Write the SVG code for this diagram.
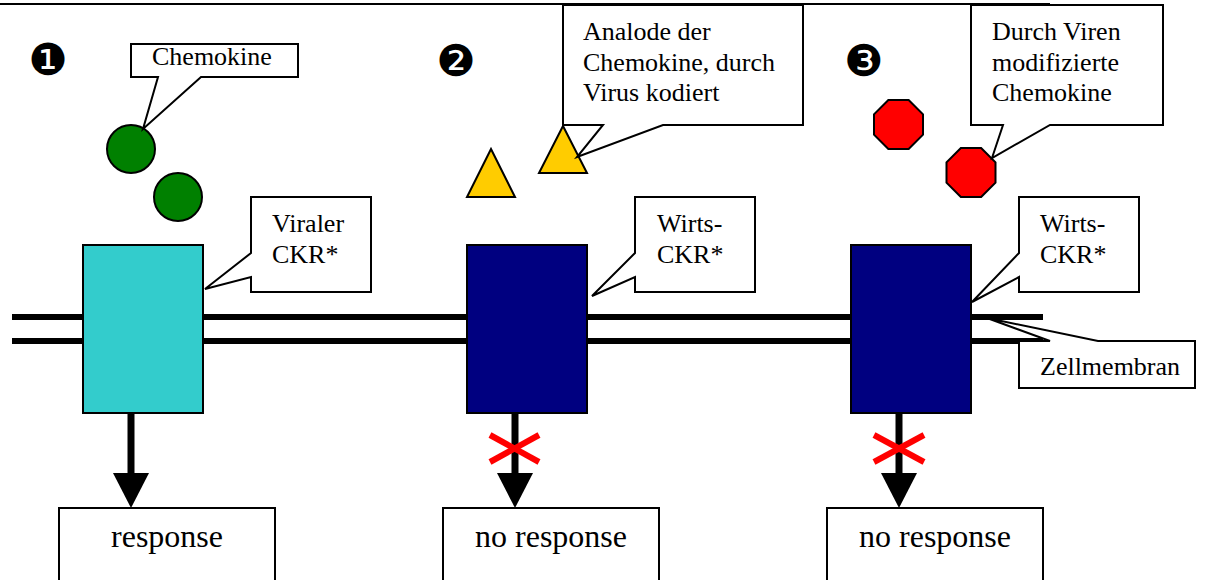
<svg xmlns="http://www.w3.org/2000/svg" width="1209" height="580" viewBox="0 0 1209 580">
<style>
.t{font-family:"Liberation Serif","Times New Roman",serif;font-size:26px;fill:#000}
.r{font-family:"Liberation Serif","Times New Roman",serif;font-size:32px;fill:#000;text-anchor:middle}
.num{font-family:"DejaVu Sans",sans-serif;font-size:44px;fill:#000;text-anchor:middle}
.co{fill:#fff;stroke:#000;stroke-width:2;stroke-linejoin:miter}
.mem{stroke:#000;stroke-width:6}
.sh{stroke:#000;stroke-width:2}
.arr{stroke:#000;stroke-width:7;marker-end:url(#ah)}
.x{stroke:#f00;stroke-width:6}
</style>
<defs>
<marker id="ah" viewBox="0 0 35 36" refX="7" refY="18" markerWidth="35" markerHeight="36" markerUnits="userSpaceOnUse" orient="auto">
<path d="M0,0 L35,18 L0,36 Z" fill="#000"/>
</marker>
</defs>
<rect width="1209" height="580" fill="#fff"/>
<line x1="0" y1="4" x2="1050" y2="4" stroke="#000" stroke-width="2"/>
<g id="membrane">
<line class="mem" x1="12" y1="317" x2="1043" y2="317"/>
<line class="mem" x1="12" y1="341" x2="1043" y2="341"/>
</g>
<g id="bullets">
<text class="num" x="48" y="75">❶</text>
<text class="num" x="456" y="76">❷</text>
<text class="num" x="864" y="76">❸</text>
</g>
<g id="chemokines">
<circle cx="131" cy="149" r="24" fill="#008000" class="sh"/>
<circle cx="178" cy="197" r="24" fill="#008000" class="sh"/>
</g>
<g id="analogs">
<polygon points="491,149 515,197 467,197" fill="#FFCC00" class="sh"/>
<polygon points="563,126 587,173 539,173" fill="#FFCC00" class="sh"/>
</g>
<g id="modified">
<polygon points="888.35,100 908.65,100 923,114.35 923,134.65 908.65,149 888.35,149 874,134.65 874,114.35" fill="#f00" class="sh"/>
<polygon points="960.85,148 981.15,148 995.5,162.35 995.5,182.65 981.15,197 960.85,197 946.5,182.65 946.5,162.35" fill="#f00" class="sh"/>
</g>
<g id="receptor1"><rect x="83" y="245" width="120" height="168" fill="#33CCCC" class="sh"/></g>
<g id="receptor2"><rect x="467" y="245" width="120" height="168" fill="#000080" class="sh"/></g>
<g id="receptor3"><rect x="851" y="245" width="120" height="168" fill="#000080" class="sh"/></g>
<g id="connectors">
<line class="arr" x1="131" y1="413" x2="131" y2="480"/>
<line class="arr" x1="515" y1="413" x2="515" y2="480"/>
<line class="arr" x1="899" y1="413" x2="899" y2="480"/>
<line class="x" x1="490" y1="435" x2="539" y2="462"/>
<line class="x" x1="490" y1="462" x2="539" y2="435"/>
<line class="x" x1="874" y1="435" x2="924" y2="462"/>
<line class="x" x1="874" y1="462" x2="924" y2="435"/>
</g>
<g id="callout-chemokine">
<path class="co" d="M131,44 H298 V77 H201 L143,129 L158,77 H131 Z"/>
<text class="t" x="152" y="65">Chemokine</text>
</g>
<g id="callout-analog">
<path class="co" d="M563,5 H803 V125 H663 L577,157 L603,125 H563 Z"/>
<text class="t" x="583" y="40">Analode der</text>
<text class="t" x="583" y="71">Chemokine, durch</text>
<text class="t" x="583" y="101">Virus kodiert</text>
</g>
<g id="callout-modified">
<path class="co" d="M971,5 H1163 V125 H1050 L992,158 L1003,125 H971 Z"/>
<text class="t" x="992" y="40">Durch Viren</text>
<text class="t" x="992" y="71">modifizierte</text>
<text class="t" x="992" y="101">Chemokine</text>
</g>
<g id="callout-viral">
<path class="co" d="M251,197 H371 V292 H251 V277 L205,289 L251,253 Z"/>
<text class="t" x="272" y="232">Viraler</text>
<text class="t" x="272" y="263">CKR*</text>
</g>
<g id="callout-wirts2">
<path class="co" d="M635,197 H755 V292 H635 V277 L592,296 L635,253 Z"/>
<text class="t" x="657" y="232">Wirts-</text>
<text class="t" x="657" y="263">CKR*</text>
</g>
<g id="callout-wirts3">
<path class="co" d="M1019,197 H1139 V292 H1019 V277 L972,302 L1019,253 Z"/>
<text class="t" x="1040" y="232">Wirts-</text>
<text class="t" x="1040" y="263">CKR*</text>
</g>
<g id="callout-membran">
<path class="co" d="M1019,341 H1050 L987,318 L1098,341 H1195 V388 H1019 Z"/>
<text class="t" x="1040" y="375">Zellmembran</text>
</g>
<g id="result1">
<rect x="59" y="508" width="216" height="90" class="co"/>
<text class="r" x="167" y="547">response</text>
</g>
<g id="result2">
<rect x="443" y="508" width="216" height="90" class="co"/>
<text class="r" x="551" y="547">no response</text>
</g>
<g id="result3">
<rect x="827" y="508" width="216" height="90" class="co"/>
<text class="r" x="935" y="547">no response</text>
</g>
</svg>
